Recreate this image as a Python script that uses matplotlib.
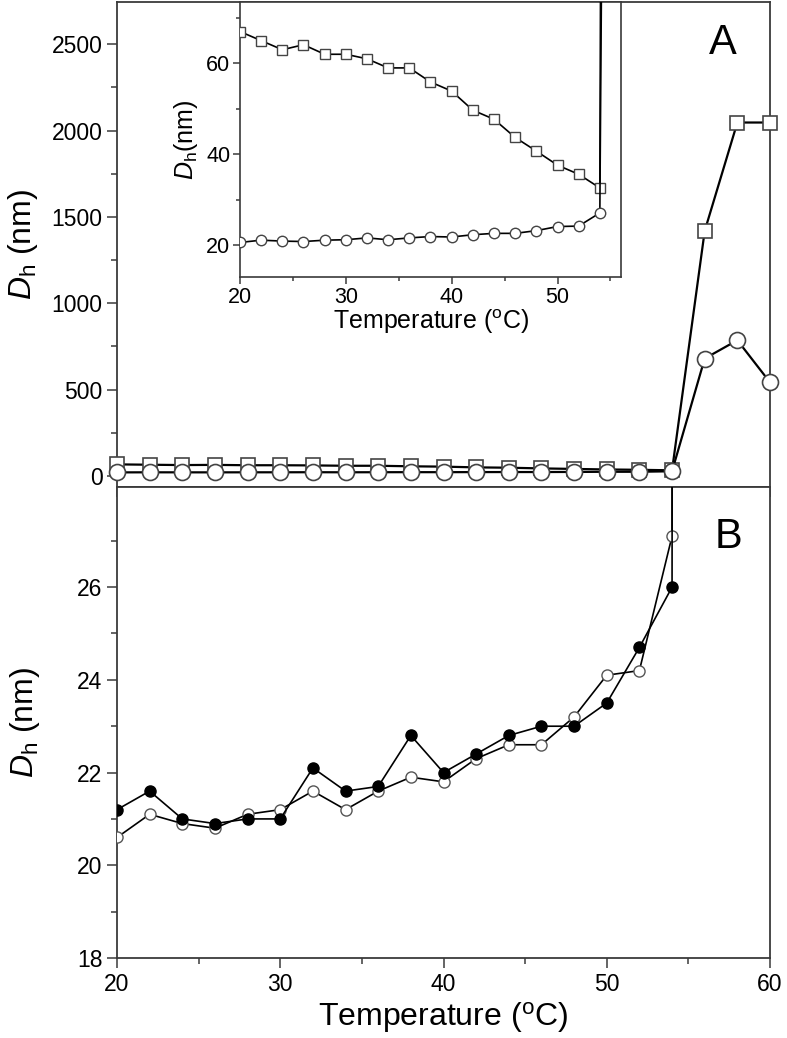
import matplotlib
matplotlib.use("Agg")
import matplotlib.pyplot as plt
from matplotlib.ticker import MultipleLocator, FixedLocator

plt.rcParams['font.family'] = ['Liberation Sans', 'DejaVu Sans']
plt.rcParams['mathtext.fontset'] = 'custom'
plt.rcParams['mathtext.rm'] = 'Liberation Sans'
plt.rcParams['mathtext.it'] = 'Liberation Sans:italic'

# ---------------- data ----------------
temp = [20, 22, 24, 26, 28, 30, 32, 34, 36, 38, 40, 42, 44, 46, 48, 50, 52, 54, 56, 58, 60]
# panel A, squares
dh_square = [67.0, 65.0, 63.0, 64.1, 62.0, 62.0, 61.0, 59.0, 59.0, 55.9, 53.9, 49.7,
             47.7, 43.7, 40.7, 37.6, 35.6, 32.6, 1419, 2047, 2047]
# panel A circles / panel B open circles
dh_open = [20.6, 21.1, 20.9, 20.8, 21.1, 21.2, 21.6, 21.2, 21.6, 21.9, 21.8, 22.3,
           22.6, 22.6, 23.2, 24.1, 24.2, 27.1, 680, 786, 542]
# panel B filled circles
temp_filled = [20, 22, 24, 26, 28, 30, 32, 34, 36, 38, 40, 42, 44, 46, 48, 50, 52, 54, 56]
dh_filled = [21.2, 21.6, 21.0, 20.9, 21.0, 21.0, 22.1, 21.6, 21.7, 22.8, 22.0, 22.4,
             22.8, 23.0, 23.0, 23.5, 24.7, 26.0, 680]
b_yticks = [18, 20, 22, 24, 26]
b_yminor = [19, 21, 23, 25, 27]

xlab = 'Temperature ($^\\mathrm{o}$C)'
ylab = '$D_\\mathrm{h}$ (nm)'
ylab_in = '$D_\\mathrm{h}$(nm)'

spine_c = '#3a3a3a'
W, H = 787, 1038
fig = plt.figure(figsize=(W / 100, H / 100), dpi=100)

def rect(l, t, r, b):
    return [l / W, 1 - b / H, (r - l) / W, (b - t) / H]

axA = fig.add_axes(rect(117, 2, 770, 487))
axB = fig.add_axes(rect(117, 487, 770, 958))
axI = fig.add_axes(rect(240, 2, 621, 277))

def style(ax, lw=1.3):
    for s in ax.spines.values():
        s.set_color(spine_c)
        s.set_linewidth(lw)
    ax.tick_params(which='both', direction='out', color=spine_c, width=1.1)
    ax.tick_params(which='major', length=7)
    ax.tick_params(which='minor', length=4)

# ---------------- panel A ----------------
style(axA)
axA.plot(temp, dh_square, '-', color='black', lw=1.6, marker='s', ms=9.5,
         mfc='white', mec='#444444', mew=1.2, clip_on=False, zorder=3)
axA.plot(temp, dh_open, '-', color='black', lw=1.6, marker='o', ms=11.5,
         mfc='white', mec='#444444', mew=1.2, clip_on=False, zorder=3)
axA.set_xlim(20, 60)
axA.set_ylim(-64, 2745)
axA.yaxis.set_major_locator(MultipleLocator(500))
axA.yaxis.set_minor_locator(MultipleLocator(250))
axA.xaxis.set_major_locator(MultipleLocator(10))
axA.xaxis.set_minor_locator(MultipleLocator(5))
axA.tick_params(axis='x', which='both', labelbottom=False)
axA.tick_params(axis='y', labelsize=16.5)
axA.set_ylabel(ylab, fontsize=23)
axA.yaxis.set_label_coords(-0.118, 0.5)
fig.text(723 / W, 1 - 43 / H, 'A', fontsize=30, ha='center', va='center')

# ---------------- inset ----------------
style(axI, lw=1.2)
axI.plot(temp, dh_square, '-', color='black', lw=1.2, marker='s', ms=7,
         mfc='white', mec='#444444', mew=1.0, zorder=3)
axI.plot(temp, dh_open, '-', color='black', lw=1.2, marker='o', ms=7.5,
         mfc='white', mec='#444444', mew=1.0, zorder=3)
axI.set_xlim(20, 56)
axI.set_ylim(13, 73.5)
axI.xaxis.set_major_locator(MultipleLocator(10))
axI.xaxis.set_minor_locator(MultipleLocator(5))
axI.yaxis.set_major_locator(MultipleLocator(20))
axI.yaxis.set_minor_locator(MultipleLocator(10))
axI.tick_params(which='major', length=5)
axI.tick_params(which='minor', length=3)
axI.tick_params(labelsize=15.5, pad=2)
axI.set_xlabel(xlab, fontsize=18, labelpad=0)
axI.set_ylabel(ylab_in, fontsize=18)
axI.yaxis.set_label_coords(-0.105, 0.5)

# ---------------- panel B ----------------
style(axB)
axB.plot(temp, dh_open, '-', color='black', lw=1.2, marker='o', ms=8,
         mfc='white', mec='#555555', mew=1.0, zorder=3)
axB.plot(temp_filled, dh_filled, '-', color='black', lw=1.2, marker='o', ms=8,
         mfc='black', mec='black', zorder=4)
axB.set_xlim(20, 60)
axB.set_ylim(18, 28.16)
axB.xaxis.set_major_locator(MultipleLocator(10))
axB.xaxis.set_minor_locator(MultipleLocator(5))
axB.yaxis.set_major_locator(FixedLocator(b_yticks))
axB.yaxis.set_minor_locator(FixedLocator(b_yminor))
axB.tick_params(labelsize=16.5)
axB.set_xlabel(xlab, fontsize=23, labelpad=3)
axB.set_ylabel(ylab, fontsize=23)
axB.yaxis.set_label_coords(-0.115, 0.5)
fig.text(728 / W, 1 - 537 / H, 'B', fontsize=30, ha='center', va='center')

fig.savefig('out.png', dpi=100)
